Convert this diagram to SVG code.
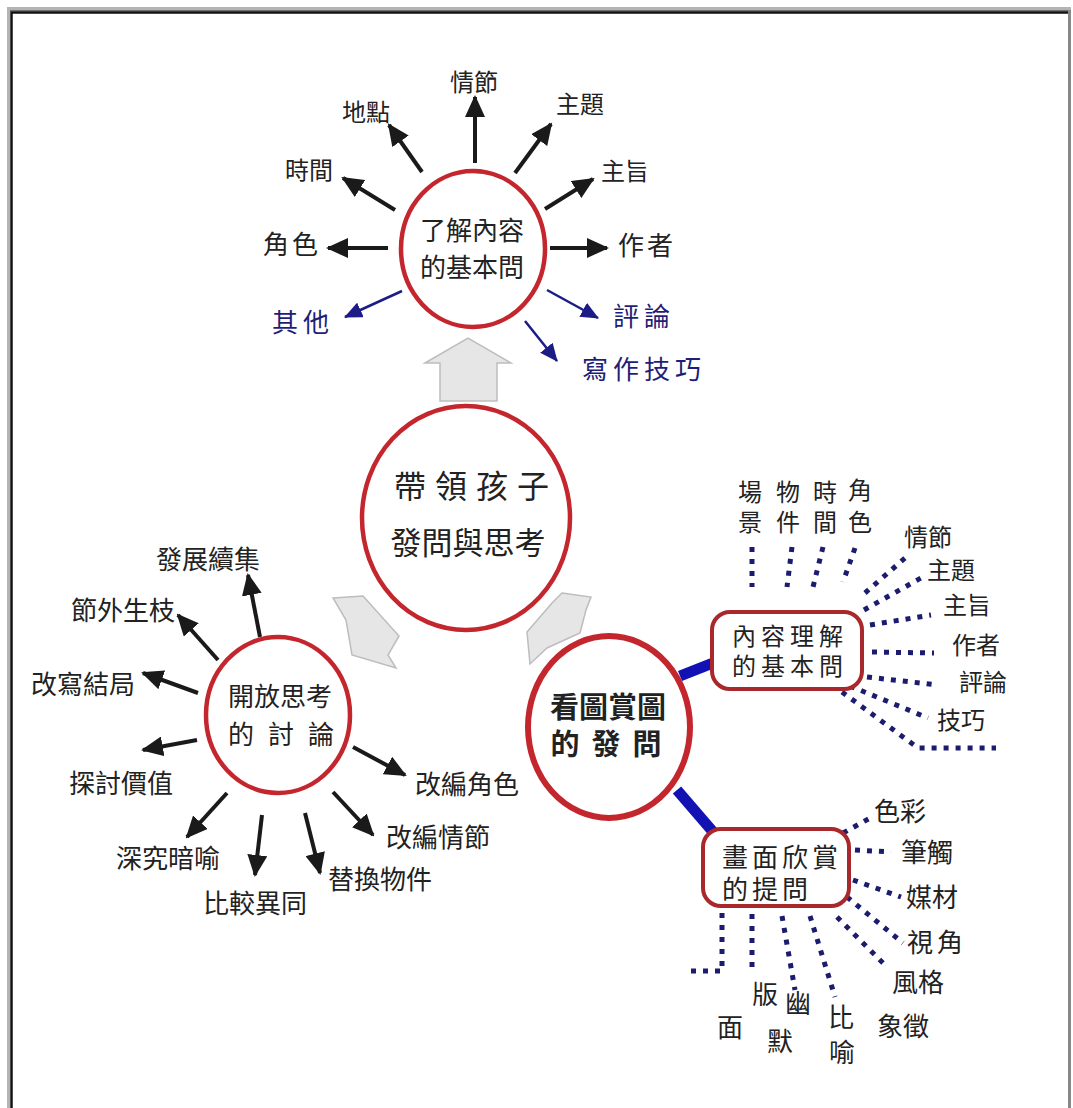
<svg xmlns="http://www.w3.org/2000/svg" width="1073" height="1108" viewBox="0 0 1073 1108">
<defs>
<style>
.t{font-family:"Liberation Sans","Noto Sans CJK TC","Noto Sans CJK SC",sans-serif;fill:#222;text-anchor:middle;dominant-baseline:central}
.lb{font-size:24px}
.lm{font-size:26px}
.bl{font-size:26px;fill:#1e1e78;letter-spacing:5px}
.circ{fill:#fff;stroke:#c4262e;stroke-width:4.5}
.box{fill:#fff;stroke:#a8282c;stroke-width:4}
.blk{stroke:#1a1a1a;stroke-width:4;fill:none}
.blu{stroke:#1c1c86;stroke-width:2.5;fill:none}
.dot{stroke:#1c1c6e;stroke-width:5;fill:none;stroke-dasharray:5 7}
.thick{stroke:#1212b4;stroke-width:11;fill:none}
.gr{fill:#e6e6e6;stroke:#bdbdbd;stroke-width:1.5}
</style>
<marker id="ab" markerUnits="userSpaceOnUse" markerWidth="22" markerHeight="20" refX="20" refY="10" orient="auto"><path d="M0,0 L22,10 L0,20 z" fill="#1a1a1a"/></marker>
<marker id="abl" markerUnits="userSpaceOnUse" markerWidth="18" markerHeight="16" refX="17" refY="8" orient="auto"><path d="M0,0 L18,8 L0,16 z" fill="#1c1c86"/></marker>
</defs>
<rect width="1073" height="1108" fill="#fff"/>
<g id="frame">
<path d="M8.5,1108 V8.5 H1071" fill="none" stroke="#b4b4b4" stroke-width="3"/>
<path d="M10,10.8 H1068" fill="none" stroke="#707070" stroke-width="1.5"/>
<path d="M11.5,1108 V12.5 H1068" fill="none" stroke="#111" stroke-width="2.5"/>
<path d="M1069.5,10 V1108" fill="none" stroke="#888" stroke-width="3"/>
</g>
<g id="block-arrows">
<polygon class="gr" points="425,363 468,338 511,363 497,363 497,401 440,401 440,363"/>
<polygon class="gr" points="333,598 363,596 399,636 388,655 396,668 352,655 346,620"/>
<polygon class="gr" points="562,593 591,597 586,610 580,633 547,648 530,664 527,632 552,603"/>
</g>
<g id="connectors">
<line class="blk" x1="475" y1="163" x2="475" y2="97" marker-end="url(#ab)"/>
<line class="blk" x1="422" y1="172" x2="389" y2="125" marker-end="url(#ab)"/>
<line class="blk" x1="515" y1="173" x2="551" y2="124" marker-end="url(#ab)"/>
<line class="blk" x1="395" y1="210" x2="343" y2="178" marker-end="url(#ab)"/>
<line class="blk" x1="545" y1="209" x2="593" y2="179" marker-end="url(#ab)"/>
<line class="blk" x1="388" y1="248" x2="328" y2="248" marker-end="url(#ab)"/>
<line class="blk" x1="550" y1="248" x2="607" y2="248" marker-end="url(#ab)"/>
<line class="blu" x1="402" y1="291" x2="345" y2="317" marker-end="url(#abl)"/>
<line class="blu" x1="547" y1="290" x2="598" y2="318" marker-end="url(#abl)"/>
<line class="blu" x1="525" y1="321" x2="557" y2="361" marker-end="url(#abl)"/>

<line class="blk" x1="260" y1="637" x2="248" y2="575" marker-end="url(#ab)"/>
<line class="blk" x1="218" y1="660" x2="178" y2="615" marker-end="url(#ab)"/>
<line class="blk" x1="198" y1="693" x2="143" y2="673" marker-end="url(#ab)"/>
<line class="blk" x1="197" y1="740" x2="143" y2="750" marker-end="url(#ab)"/>
<line class="blk" x1="227" y1="793" x2="187" y2="837" marker-end="url(#ab)"/>
<line class="blk" x1="262" y1="815" x2="255" y2="875" marker-end="url(#ab)"/>
<line class="blk" x1="305" y1="813" x2="320" y2="873" marker-end="url(#ab)"/>
<line class="blk" x1="333" y1="792" x2="373" y2="835" marker-end="url(#ab)"/>
<line class="blk" x1="353" y1="747" x2="405" y2="775" marker-end="url(#ab)"/>

<line class="thick" x1="680" y1="676" x2="718" y2="661"/>
<line class="thick" x1="677" y1="790" x2="714" y2="833"/>

<line class="dot" x1="752" y1="547" x2="752" y2="587"/>
<line class="dot" x1="792" y1="547" x2="787" y2="587"/>
<line class="dot" x1="823" y1="547" x2="813" y2="587"/>
<line class="dot" x1="855" y1="548" x2="843" y2="582"/>
<line class="dot" x1="865" y1="593" x2="905" y2="558"/>
<line class="dot" x1="864" y1="610" x2="921" y2="578"/>
<line class="dot" x1="870" y1="625" x2="931" y2="615"/>
<line class="dot" x1="872" y1="652" x2="934" y2="653"/>
<line class="dot" x1="867" y1="677" x2="938" y2="685"/>
<line class="dot" x1="850" y1="686" x2="928" y2="718"/>
<path class="dot" d="M842,692 L918,748 L996,748"/>

<line class="dot" x1="843" y1="833" x2="872" y2="817"/>
<line class="dot" x1="855" y1="850" x2="891" y2="852"/>
<line class="dot" x1="853" y1="880" x2="901" y2="897"/>
<line class="dot" x1="847" y1="897" x2="903" y2="943"/>
<line class="dot" x1="837" y1="917" x2="884" y2="964"/>
<path class="dot" d="M722,913 L722,971 L688,971"/>
<line class="dot" x1="752" y1="914" x2="752" y2="968"/>
<line class="dot" x1="782" y1="916" x2="795" y2="990"/>
<line class="dot" x1="810" y1="916" x2="835" y2="997"/>
</g>
<g id="node-top">
<ellipse class="circ" cx="473" cy="249" rx="72" ry="78"/>
<text class="t lm" x="472" y="231">了解內容<tspan x="472" dy="37">的基本問</tspan></text>
</g>
<g id="node-center">
<ellipse class="circ" cx="466" cy="518" rx="104" ry="112"/>
<text class="t" style="font-size:32px" y="487"><tspan x="476" style="letter-spacing:9px">帶領孩子</tspan><tspan x="468" dy="56" style="font-size:31px">發問與思考</tspan></text>
</g>
<g id="node-left">
<ellipse class="circ" cx="278" cy="715" rx="72" ry="78"/>
<text class="t lm" x="280" y="697">開放思考<tspan x="288" dy="38" style="letter-spacing:14px">的討論</tspan></text>
</g>
<g id="node-right">
<ellipse class="circ" style="stroke-width:6" cx="609" cy="727" rx="81" ry="91"/>
<text class="t" style="font-size:29px;font-weight:bold" x="608" y="708">看圖賞圖<tspan x="612" dy="37" style="letter-spacing:12px">的發問</tspan></text>
</g>
<g id="node-box1">
<rect class="box" x="712" y="612" width="150" height="77" rx="18"/>
<text class="t" style="font-size:24px;letter-spacing:5px" x="790" y="636">內容理解<tspan x="790" dy="30">的基本問</tspan></text>
</g>
<g id="node-box2">
<rect class="box" x="703" y="829" width="146" height="77" rx="18"/>
<text class="t" style="font-size:26px;letter-spacing:4px" x="782" y="858">畫面欣賞<tspan x="767" dy="32">的提問</tspan></text>
</g>
<g id="labels-top">
<text class="t lb" x="474" y="82">情節</text>
<text class="t lb" x="366" y="112">地點</text>
<text class="t lb" x="580" y="104">主題</text>
<text class="t lb" x="309" y="170">時間</text>
<text class="t lb" x="625" y="171">主旨</text>
<text class="t lm" style="letter-spacing:3px" x="292" y="245">角色</text>
<text class="t lm" style="letter-spacing:3px" x="647" y="246">作者</text>
<text class="t bl" x="303" y="323">其他</text>
<text class="t bl" x="644" y="317">評論</text>
<text class="t bl" x="644" y="370">寫作技巧</text>
</g>
<g id="labels-left">
<text class="t lm" x="208" y="560">發展續集</text>
<text class="t lm" x="123" y="611">節外生枝</text>
<text class="t lm" x="83" y="685">改寫結局</text>
<text class="t lm" x="121" y="784">探討價值</text>
<text class="t lm" x="168" y="859">深究暗喻</text>
<text class="t lm" x="255" y="904">比較異同</text>
<text class="t lm" x="380" y="880">替換物件</text>
<text class="t lm" x="438" y="838">改編情節</text>
<text class="t lm" x="467" y="785">改編角色</text>
</g>
<g id="labels-box1">
<text class="t lb" x="750" y="492">場<tspan x="750" dy="30">景</tspan></text>
<text class="t lb" x="788" y="492">物<tspan x="788" dy="30">件</tspan></text>
<text class="t lb" x="825" y="492">時<tspan x="825" dy="30">間</tspan></text>
<text class="t lb" x="860" y="490">角<tspan x="860" dy="32">色</tspan></text>
<text class="t lb" x="928" y="537">情節</text>
<text class="t lb" x="951" y="570">主題</text>
<text class="t lb" x="967" y="605">主旨</text>
<text class="t lb" x="976" y="645">作者</text>
<text class="t lb" x="983" y="682">評論</text>
<text class="t lb" x="961" y="720">技巧</text>
</g>
<g id="labels-box2">
<text class="t lm" x="900" y="812">色彩</text>
<text class="t lm" x="927" y="853">筆觸</text>
<text class="t lm" x="932" y="898">媒材</text>
<text class="t lm" style="letter-spacing:4px" x="937" y="943">視角</text>
<text class="t lm" x="918" y="983">風格</text>
<text class="t lm" x="903" y="1027">象徵</text>
<text class="t lm" x="765" y="995">版<tspan x="730" dy="33">面</tspan></text>
<text class="t lm" x="798" y="1004">幽<tspan x="780" dy="38">默</tspan></text>
<text class="t lm" x="841" y="1018">比<tspan x="842" dy="35">喻</tspan></text>
</g>
</svg>
